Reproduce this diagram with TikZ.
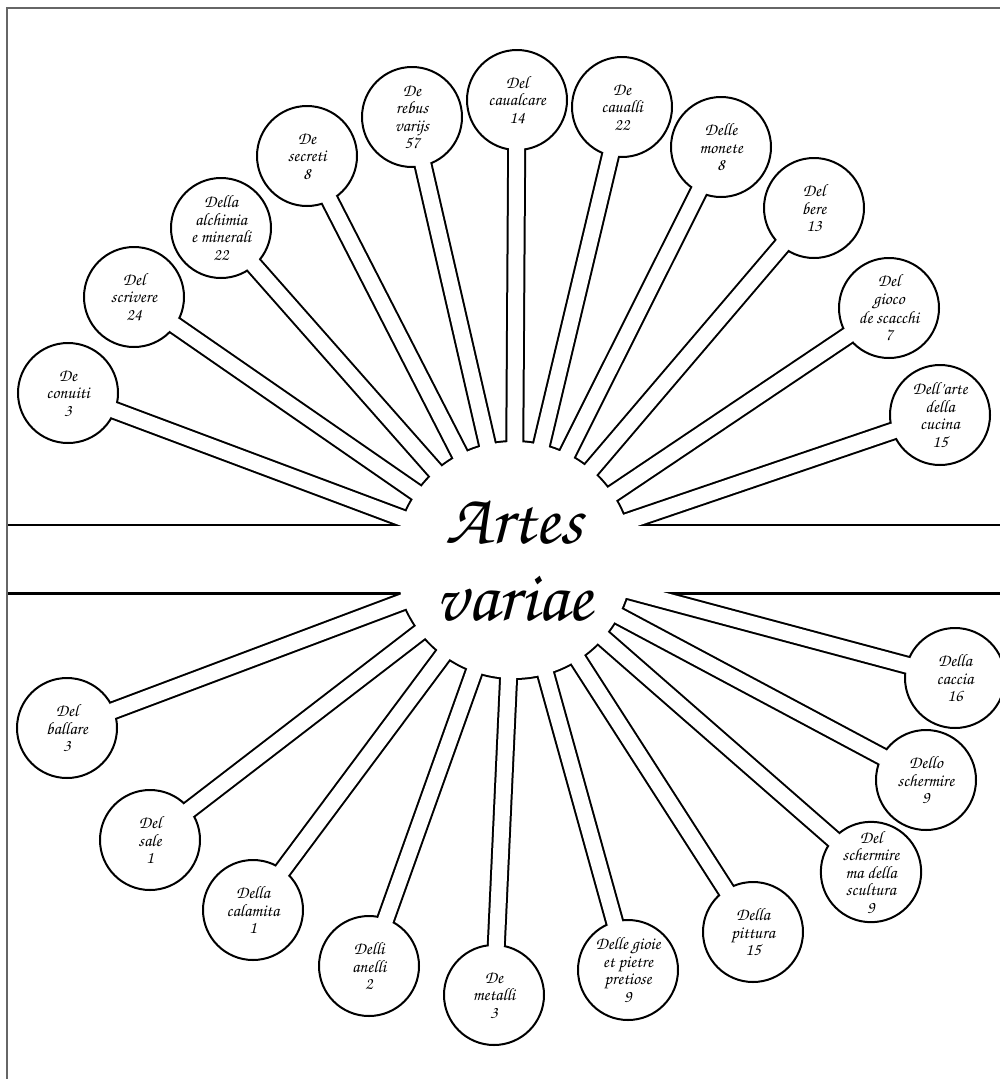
\documentclass[tikz,border=0pt]{standalone}
\usepackage[T1]{fontenc}
\usetikzlibrary{calc}

\newcommand{\chancery}{\fontfamily{pzc}\fontseries{mb}\fontshape{it}\selectfont}

\begin{document}
\begin{tikzpicture}[x=1pt, y=-1pt,
    ink/.style={black},
    spoke-ink/.style={line width=19pt, black},
    spoke-paper/.style={line width=15pt, white, shorten >=-3pt},
    lolly/.style={circle, draw, line width=2pt, fill=white, minimum size=100pt,
      inner sep=0pt, align=center, font=\chancery\fontsize{17.5}{17.5}\selectfont},
    title/.style={align=center, font=\chancery\fontsize{72}{77}\selectfont},
    frame/.style={line width=2pt, black!60}]

  \useasboundingbox (0, 0) rectangle (1000, 1079);

  \coordinate (centre) at (514, 560);

  % upper fan
  \coordinate (pos-conuiti)   at (68, 393);
  \coordinate (pos-scrivere)  at (134, 297);
  \coordinate (pos-alchimia)  at (221, 228);
  \coordinate (pos-secreti)   at (307, 156);
  \coordinate (pos-rebus)     at (412, 117);
  \coordinate (pos-caualcare) at (517, 100);
  \coordinate (pos-caualli)   at (622, 107);
  \coordinate (pos-monete)    at (721, 147);
  \coordinate (pos-bere)      at (814, 208);
  \coordinate (pos-scacchi)   at (889, 308);
  \coordinate (pos-cucina)    at (940, 415);

  % lower fan
  \coordinate (pos-ballare)   at (67, 728);
  \coordinate (pos-sale)      at (150, 840);
  \coordinate (pos-calamita)  at (253, 910);
  \coordinate (pos-anelli)    at (369, 966);
  \coordinate (pos-metalli)   at (494, 995);
  \coordinate (pos-gioie)     at (628, 970);
  \coordinate (pos-pittura)   at (753, 932);
  \coordinate (pos-scultura)  at (871, 872);
  \coordinate (pos-schermire) at (926, 780);
  \coordinate (pos-caccia)    at (955, 678);

  % dark under-layer: hub, band and spokes
  \fill[ink] (centre) circle[radius=120pt];
  \fill[ink] (7, 523.5) rectangle (1000, 594.5);
  \foreach \name in {conuiti, scrivere, alchimia, secreti, rebus, caualcare, caualli,
      monete, bere, scacchi, cucina, ballare, sale, calamita, anelli, metalli,
      gioie, pittura, scultura, schermire, caccia}
    \draw[spoke-ink] (centre) to (pos-\name);

  % the lollipops
  \node[lolly] (conuiti)   at (pos-conuiti)   {De\\conuiti\\3};
  \node[lolly] (scrivere)  at (pos-scrivere)  {Del\\scrivere\\24};
  \node[lolly] (alchimia)  at (pos-alchimia)  {Della\\alchimia\\e minerali\\22};
  \node[lolly] (secreti)   at (pos-secreti)   {De\\secreti\\8};
  \node[lolly] (rebus)     at (pos-rebus)     {De\\rebus\\varijs\\57};
  \node[lolly] (caualcare) at (pos-caualcare) {Del\\caualcare\\14};
  \node[lolly] (caualli)   at (pos-caualli)   {De\\caualli\\22};
  \node[lolly] (monete)    at (pos-monete)    {Delle\\monete\\8};
  \node[lolly] (bere)      at (pos-bere)      {Del\\bere\\13};
  \node[lolly] (scacchi)   at (pos-scacchi)   {Del\\gioco\\de scacchi\\7};
  \node[lolly] (cucina)    at (pos-cucina)    {Dell'arte\\della\\cucina\\15};

  \node[lolly] (ballare)   at (pos-ballare)   {Del\\ballare\\3};
  \node[lolly] (sale)      at (pos-sale)      {Del\\sale\\1};
  \node[lolly] (calamita)  at (pos-calamita)  {Della\\calamita\\1};
  \node[lolly] (anelli)    at (pos-anelli)    {Delli\\anelli\\2};
  \node[lolly] (metalli)   at (pos-metalli)   {De\\metalli\\3};
  \node[lolly] (gioie)     at (pos-gioie)     {Delle gioie\\et pietre\\pretiose\\9};
  \node[lolly] (pittura)   at (pos-pittura)   {Della\\pittura\\15};
  \node[lolly] (scultura)  at (pos-scultura)  {Del\\schermire\\ma della\\scultura\\9};
  \node[lolly] (schermire) at (pos-schermire) {Dello\\schermire\\9};
  \node[lolly] (caccia)    at (pos-caccia)    {Della\\caccia\\16};

  % hollow out hub, band and spokes
  \fill[white] (centre) circle[radius=118pt];
  \fill[white] (7, 526) rectangle (1000, 592);
  \foreach \name in {conuiti, scrivere, alchimia, secreti, rebus, caualcare, caualli,
      monete, bere, scacchi, cucina, ballare, sale, calamita, anelli, metalli,
      gioie, pittura, scultura, schermire, caccia}
    \draw[spoke-paper] (centre) to (\name);

  \node[title] (artes) at (centre) {Artes\\variae};

  % page edge
  \draw[frame] (7, 1079) to (7, 8) to (1000, 8);

\end{tikzpicture}
\end{document}
